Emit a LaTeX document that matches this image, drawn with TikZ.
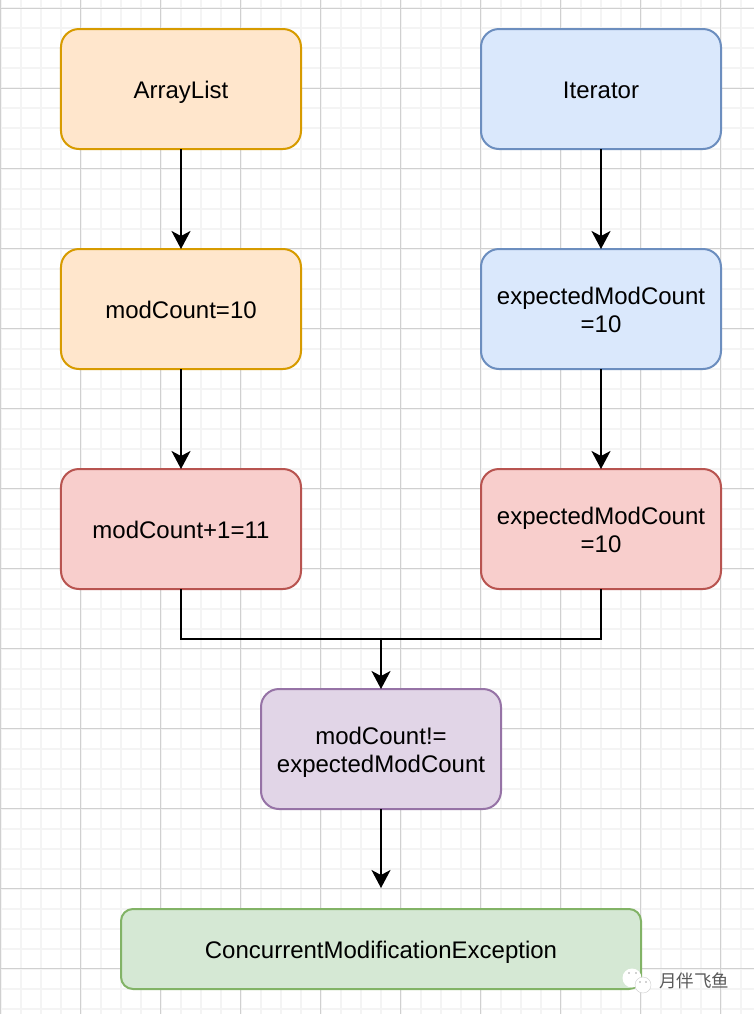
\documentclass[tikz,border=0pt]{standalone}
\usepackage{fontspec}
\setmainfont{Liberation Sans}
\newfontfamily\cjkfont{Noto Sans CJK SC}
\usepackage{xcolor}
\usetikzlibrary{arrows.meta, calc, matrix, positioning}
\definecolor{gridminor}{HTML}{F4F4F4}
\definecolor{gridmajor}{HTML}{D0D0D0}
\definecolor{matorange}{HTML}{FFE6CC}
\definecolor{matorange400}{HTML}{D79B00}
\definecolor{matblue}{HTML}{DAE8FC}
\definecolor{matblue400}{HTML}{6C8EBF}
\definecolor{matred}{HTML}{F8CECC}
\definecolor{matred400}{HTML}{B85450}
\definecolor{matpurple}{HTML}{E1D5E7}
\definecolor{matpurple400}{HTML}{9673A6}
\definecolor{matgreen}{HTML}{D5E8D4}
\definecolor{matgreen400}{HTML}{82B366}
\tikzset{
  %box node style
  thread/.style={
    draw
    , line width=2pt
    , anchor=center
    , text centered
    , align=center
    , inner sep=0pt
    , outer sep=0pt
    , rounded corners=18pt
    , minimum width=240pt
    , minimum height=120pt
    , text=black
    , font=\fontsize{24}{28}\selectfont
    , text height=24pt
    , text depth=5pt
  },
  twoline/.style={
    text height=51pt
    , text depth=5pt
  },
  link/.style={
    -{Stealth[length=18pt,width=19pt,inset=5pt]}
    , line width=2pt
  },
}
\begin{document}
\begin{tikzpicture}[x=1pt,y=1pt]
  \tikzstyle{list}=[thread, fill=matorange, draw=matorange400]
  \tikzstyle{iter}=[thread, fill=matblue, draw=matblue400]
  \tikzstyle{mod}=[thread, fill=matred, draw=matred400]
  \tikzstyle{check}=[thread, fill=matpurple, draw=matpurple400]
  \tikzstyle{exc}=[thread, fill=matgreen, draw=matgreen400, rounded corners=12pt, minimum width=520pt, minimum height=80pt]
  \useasboundingbox (0,0) rectangle (754,-1014);
  \fill [white] (0,0) rectangle (754,-1014);
  %grid
  \foreach \gx in {0,20,...,740}
    \draw [gridminor, line width=2pt] (\gx+0.5,0) -- (\gx+0.5,-1014);
  \foreach \gy in {8,28,...,1008}
    \draw [gridminor, line width=2pt] (0,-\gy-0.5) -- (754,-\gy-0.5);
  \foreach \gx in {0,80,...,720}
    \draw [gridmajor, line width=1pt] (\gx+0.5,0) -- (\gx+0.5,-1014);
  \foreach \gy in {8,88,...,968}
    \draw [gridmajor, line width=1pt] (0,-\gy-0.5) -- (754,-\gy-0.5);
\matrix (m) at (391,-309) [
 matrix of nodes
 , column sep=178pt
 , row sep=98pt
 , inner sep=0pt
 , outer sep=0pt
 , ampersand replacement=\&
]{
  \node [list] (alist) {ArrayList};
  \& \node [iter] (iter) {Iterator}; \\
%
  \node [list] (mc) {modCount=10};
  \& \node [iter,twoline] (emc) {expectedModCount\\=10}; \\
%
  \node [mod] (mc1) {modCount+1=11};
  \& \node [mod,twoline] (emc1) {expectedModCount\\=10}; \\
};%end matrix
  \node [check,twoline,below=99pt of m,xshift=-10pt] (cmp) {modCount!=\\expectedModCount};
  \node [exc,below=100pt of cmp] (cme) {ConcurrentModificationException};

  \coordinate (merge) at ($(cmp.north)+(0,50)$);
  \coordinate (cme-in) at ($(cme.north)+(0,21)$);

  \draw [link] (alist) -- (mc);
  \draw [link] (mc) -- (mc1);
  \draw [link] (iter) -- (emc);
  \draw [link] (emc) -- (emc1);

  \draw [line width=2pt] (mc1.south) |- (merge);
  \draw [line width=2pt] (emc1.south) |- (merge);
  \draw [link] (merge) -- (cmp.north);
  \draw [link] (cmp.south) -- (cme-in);

  %watermark
  \node [circle, fill=white, inner sep=0pt, minimum size=19pt] (wx1) at (632,-978) {};
  \node [circle, fill=white, draw=gray!40, line width=.4pt, inner sep=0pt, minimum size=16pt] (wx2) at (643,-985) {};
  \fill [gray!70] (629,-973) circle (.9pt) (636,-973) circle (.9pt) (640,-982) circle (.8pt) (646,-982) circle (.8pt);
  \node [text=black!65, font=\cjkfont\fontsize{17.5}{20}\selectfont, anchor=center] (mark) at (694,-981) {月伴飞鱼};

\end{tikzpicture}
\end{document}
